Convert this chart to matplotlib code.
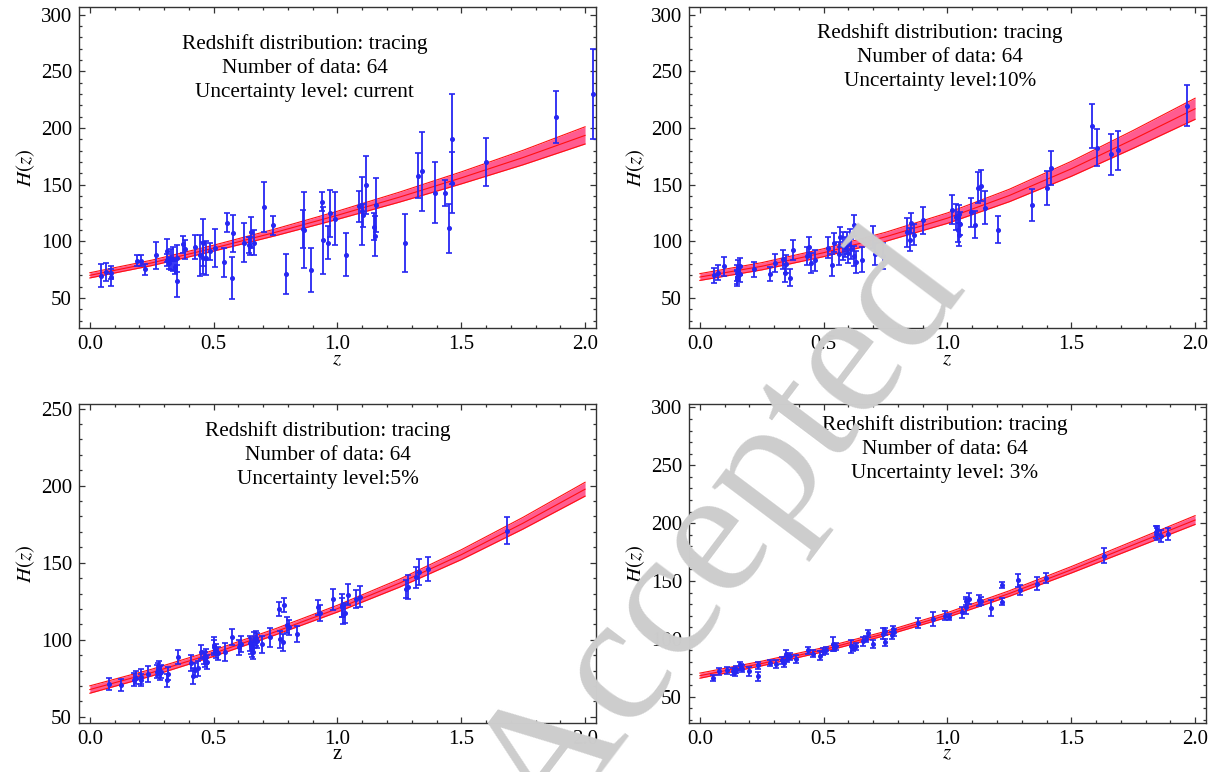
import numpy as np
import matplotlib
matplotlib.use("Agg")
import matplotlib.pyplot as plt
from matplotlib.ticker import MultipleLocator

plt.rcParams["font.family"] = "Liberation Serif"
plt.rcParams["mathtext.fontset"] = "stix"

# ============================================================
# Data: panel 1 (current uncertainty)
# ============================================================
z1 = [0.044, 0.067, 0.084, 0.086, 0.192, 0.205, 0.224, 0.269, 0.312, 0.313,
      0.318, 0.326, 0.336, 0.342, 0.351, 0.377, 0.386, 0.425, 0.444, 0.455,
      0.457, 0.468, 0.487, 0.507, 0.542, 0.555, 0.574, 0.580, 0.623, 0.641,
      0.645, 0.651, 0.661, 0.702, 0.739, 0.791, 0.862, 0.865, 0.892, 0.937,
      0.942, 0.960, 0.969, 0.992, 1.035, 1.087, 1.100, 1.103, 1.114, 1.148,
      1.151, 1.155, 1.273, 1.326, 1.340, 1.394, 1.433, 1.449, 1.464, 1.464,
      1.599, 1.882, 2.032, 0.350]
H1 = [69.7, 73.2, 68.2, 72.4, 83.0, 83.0, 75.3, 87.6, 91.8, 83.5,
      81.0, 84.0, 84.0, 77.0, 65.0, 97.4, 93.0, 94.7, 87.6, 85.0,
      98.8, 85.0, 91.2, 93.8, 81.5, 116.5, 67.6, 107.0, 98.8, 96.8,
      96.0, 108.0, 98.8, 130.6, 114.0, 71.2, 111.0, 110.0, 74.7, 135.0,
      101.0, 98.8, 124.7, 120.0, 88.2, 131.0, 127.0, 123.0, 149.4, 113.0,
      104.7, 132.0, 98.8, 158.0, 161.8, 143.0, 142.4, 111.5, 190.6, 151.8,
      170.0, 209.7, 230.0, 85.0]
e1 = [10.3, 8.1, 7.6, 6.0, 4.7, 4.7, 5.0, 11.8, 10.0, 5.0,
      5.0, 9.4, 10.6, 6.0, 14.4, 7.5, 8.2, 10.6, 18.0, 14.0,
      20.6, 15.0, 7.6, 16.8, 12.6, 8.5, 18.2, 16.0, 17.4, 7.4,
      8.0, 13.5, 11.0, 22.0, 8.2, 17.6, 17.0, 33.5, 19.4, 8.2,
      29.4, 14.7, 20.9, 23.5, 19.0, 13.5, 30.0, 10.0, 25.6, 12.0,
      17.6, 23.7, 25.6, 19.7, 34.7, 27.0, 11.5, 21.5, 39.7, 27.0,
      21.5, 23.0, 40.0, 12.0]

# ============================================================
# Data: panel 2 (10% uncertainty)
# ============================================================
z2 = [0.056, 0.074, 0.098, 0.148, 0.152, 0.156, 0.161, 0.164, 0.150, 0.218,
      0.284, 0.304, 0.337, 0.344, 0.349, 0.363, 0.376, 0.434, 0.439, 0.450,
      0.466, 0.519, 0.532, 0.543, 0.560, 0.565, 0.578, 0.586, 0.594, 0.599,
      0.605, 0.610, 0.624, 0.624, 0.629, 0.653, 0.699, 0.708, 0.741, 0.835,
      0.848, 0.853, 0.866, 0.900, 1.019, 1.035, 1.042, 1.048, 1.051, 1.046,
      1.093, 1.113, 1.124, 1.136, 1.151, 1.206, 1.343, 1.402, 1.419, 1.585,
      1.603, 1.659, 1.688, 1.966]
H2 = [70.0, 72.4, 78.0, 72.0, 67.0, 76.0, 71.0, 78.0, 68.5, 75.3,
      71.0, 81.0, 84.0, 72.4, 79.7, 68.0, 92.6, 87.0, 95.0, 81.0,
      83.2, 94.4, 79.4, 98.8, 89.0, 103.8, 95.6, 95.0, 98.5, 89.7,
      103.8, 93.5, 114.0, 87.0, 81.8, 83.8, 103.8, 88.5, 87.0, 108.0,
      101.5, 116.0, 106.0, 118.5, 128.0, 121.5, 110.3, 123.8, 115.6, 106.0,
      125.6, 114.7, 147.4, 149.0, 129.7, 110.3, 131.8, 147.0, 164.7, 201.5,
      182.6, 176.8, 180.3, 219.7]
e2 = [6.9, 6.6, 8.2, 7.0, 6.5, 7.5, 7.0, 7.5, 6.5, 6.6,
      6.0, 7.8, 8.0, 8.0, 8.0, 7.6, 8.8, 8.0, 9.0, 8.5,
      9.0, 9.3, 9.6, 8.5, 10.0, 9.0, 12.5, 9.0, 9.5, 9.0,
      7.5, 9.0, 9.0, 9.0, 9.3, 11.0, 9.7, 9.7, 11.5, 13.0,
      10.0, 9.0, 9.4, 12.0, 13.0, 11.5, 10.6, 8.0, 10.0, 10.0,
      12.5, 11.8, 13.4, 13.8, 14.7, 12.0, 14.0, 15.0, 14.6, 19.4,
      16.3, 18.2, 17.0, 18.0]

# ============================================================
# Data: panel 3 (5% uncertainty)
# ============================================================
z3 = [0.076, 0.125, 0.178, 0.188, 0.205, 0.208, 0.235, 0.272, 0.277, 0.282,
      0.289, 0.312, 0.317, 0.358, 0.409, 0.417, 0.425, 0.438, 0.450, 0.462,
      0.470, 0.474, 0.503, 0.508, 0.516, 0.546, 0.576, 0.602, 0.610, 0.647,
      0.653, 0.661, 0.658, 0.677, 0.697, 0.728, 0.764, 0.768, 0.780, 0.785,
      0.795, 0.804, 0.835, 0.921, 0.929, 0.983, 1.019, 1.023, 1.032, 1.041,
      1.074, 1.090, 1.277, 1.283, 1.318, 1.331, 1.365, 1.684, 0.280, 0.465,
      0.500, 0.650, 0.670, 1.020]
H3 = [71.2, 70.8, 74.2, 75.5, 76.0, 73.8, 77.7, 79.4, 80.7, 78.6,
      79.4, 73.6, 78.0, 89.0, 85.0, 76.4, 80.3, 81.4, 92.0, 88.5,
      89.0, 85.7, 96.5, 92.9, 91.1, 92.2, 102.0, 95.0, 97.2, 97.6,
      93.7, 99.8, 92.2, 99.4, 97.2, 101.5, 119.7, 100.2, 98.5, 122.5,
      109.3, 108.0, 103.7, 121.0, 117.5, 126.2, 122.3, 116.2, 117.5, 129.2,
      126.6, 128.0, 133.1, 134.4, 140.5, 144.0, 146.0, 170.8, 82.0, 87.0,
      95.0, 96.0, 101.0, 121.0]
e3 = [4.0, 3.9, 4.3, 4.0, 5.0, 4.0, 5.0, 4.5, 4.5, 4.5,
      4.5, 4.3, 4.3, 4.5, 5.0, 5.0, 4.5, 5.0, 4.3, 4.5,
      5.0, 4.5, 5.0, 4.5, 4.5, 5.7, 5.2, 5.0, 5.0, 5.0,
      5.0, 5.0, 5.0, 5.0, 5.5, 6.0, 4.5, 5.5, 5.5, 4.5,
      5.2, 5.0, 5.0, 5.0, 5.0, 7.0, 7.4, 6.0, 6.5, 6.8,
      5.8, 7.0, 6.0, 7.8, 6.7, 8.6, 8.0, 8.8, 4.5, 4.8,
      5.0, 5.0, 5.0, 6.0]

# ============================================================
# Data: panel 4 (3% uncertainty)
# ============================================================
z4 = [0.054, 0.078, 0.110, 0.141, 0.145, 0.161, 0.168, 0.172, 0.199, 0.233,
      0.235, 0.282, 0.309, 0.331, 0.340, 0.349, 0.352, 0.363, 0.387, 0.438,
      0.457, 0.484, 0.497, 0.511, 0.538, 0.543, 0.551, 0.610, 0.618, 0.629,
      0.659, 0.672, 0.681, 0.699, 0.739, 0.747, 0.746, 0.777, 0.782, 0.783,
      0.880, 0.942, 0.989, 1.005, 1.059, 1.073, 1.075, 1.086, 1.129, 1.136,
      1.177, 1.220, 1.220, 1.284, 1.294, 1.362, 1.399, 1.632, 1.841, 1.845,
      1.863, 1.892, 1.847, 0.134]
H4 = [66.1, 71.9, 72.8, 71.0, 73.4, 77.0, 75.7, 74.2, 71.9, 77.0,
      67.6, 79.1, 78.2, 81.4, 79.0, 87.2, 82.6, 84.9, 82.9, 90.1,
      87.2, 85.5, 89.2, 90.1, 95.8, 92.1, 93.5, 93.5, 92.1, 93.5,
      97.8, 99.9, 105.0, 95.8, 104.5, 97.0, 106.5, 103.3, 108.5, 105.6,
      113.7, 117.2, 120.0, 118.9, 123.0, 127.6, 132.8, 134.5, 133.3, 132.4,
      126.9, 146.6, 132.1, 150.6, 142.5, 147.7, 152.6, 172.0, 192.4, 190.4,
      188.7, 190.7, 193.8, 71.9]
e4 = [2.9, 3.2, 2.9, 3.5, 3.0, 3.0, 3.0, 3.0, 3.9, 2.9,
      4.0, 2.9, 3.3, 3.3, 3.0, 3.2, 3.0, 3.0, 3.4, 2.8,
      3.3, 3.9, 3.0, 3.0, 6.0, 3.0, 3.0, 5.5, 3.0, 3.0,
      4.0, 3.0, 3.0, 3.6, 4.6, 3.0, 3.0, 3.0, 3.0, 3.0,
      3.9, 6.0, 4.0, 3.0, 4.8, 6.5, 3.5, 4.8, 5.0, 3.5,
      6.8, 2.8, 2.9, 5.8, 4.3, 5.5, 4.6, 6.6, 5.5, 5.0,
      5.3, 5.5, 4.0, 3.0]

# ============================================================
# Reconstructed H(z) bands (centre and half width)
# ============================================================
z_band = [0.0, 0.25, 0.5, 0.75, 1.0, 1.25, 1.5, 1.75, 2.0]
band_mid = [
    [70.0, 81.0, 94.0, 108.0, 123.0, 139.0, 156.0, 174.0, 193.5],
    [68.5, 78.0, 90.0, 104.0, 120.5, 140.5, 164.0, 190.0, 217.0],
    [67.7, 78.7, 91.2, 105.2, 120.2, 136.7, 155.2, 175.7, 197.7],
    [68.2, 78.7, 90.7, 104.7, 120.7, 139.2, 159.7, 181.2, 202.7],
]
band_hw = [
    [2.3, 2.4, 2.6, 3.0, 3.6, 4.4, 5.3, 6.4, 7.6],
    [3.0, 3.2, 3.5, 4.0, 4.6, 5.5, 6.6, 7.9, 9.3],
    [2.4, 2.2, 2.0, 2.0, 2.2, 2.6, 3.2, 3.8, 4.5],
    [2.2, 2.0, 1.8, 1.8, 2.0, 2.4, 2.8, 3.3, 3.8],
]

level_labels = ["Uncertainty level: current", "Uncertainty level:10%",
                "Uncertainty level:5%", "Uncertainty level: 3%"]

# ============================================================
# Layout
# ============================================================
fig = plt.figure(figsize=(12.22, 7.72), dpi=100)

positions = [
    [0.0646, 0.5751, 0.4231, 0.4158],
    [0.5638, 0.5751, 0.4231, 0.4158],
    [0.0646, 0.0635, 0.4231, 0.4132],
    [0.5638, 0.0635, 0.4231, 0.4132],
]
ylims = [(23.5, 306.8), (23.5, 306.8), (46.0, 253.0), (27.3, 303.0)]
yticks = [[50, 100, 150, 200, 250, 300], [50, 100, 150, 200, 250, 300],
          [50, 100, 150, 200, 250], [50, 100, 150, 200, 250, 300]]
text_xy = [(0.437, 0.810), (0.486, 0.844), (0.482, 0.840), (0.495, 0.859)]
xlabels = [r"$z$", r"$z$", "z", r"$z$"]

data = [(z1, H1, e1), (z2, H2, e2), (z3, H3, e3), (z4, H4, e4)]

for i in range(4):
    ax = fig.add_axes(positions[i])
    zz, hh, ee = data[i]

    mid = np.array(band_mid[i])
    hw = np.array(band_hw[i])
    ax.fill_between(z_band, mid - hw, mid + hw, color="#ff5c90", lw=0, zorder=1)
    ax.plot(z_band, mid + hw, color="#ff1010", lw=0.8, zorder=2)
    ax.plot(z_band, mid - hw, color="#ff1010", lw=0.8, zorder=2)
    ax.plot(z_band, mid, color="#ff1010", lw=0.8, zorder=2)

    ax.errorbar(zz, hh, yerr=ee, fmt="o", color="#2626f2", ms=2.6,
                elinewidth=1.3, capsize=2.4, capthick=1.2, zorder=3)

    ax.set_xlim(-0.044, 2.044)
    ax.set_ylim(*ylims[i])
    ax.set_xticks([0.0, 0.5, 1.0, 1.5, 2.0])
    ax.set_xticklabels(["0.0", "0.5", "1.0", "1.5", "2.0"])
    ax.set_yticks(yticks[i])
    ax.xaxis.set_minor_locator(MultipleLocator(0.1))
    ax.yaxis.set_minor_locator(MultipleLocator(10))
    ax.tick_params(which="both", direction="in", top=True, right=True,
                   labelsize=15, width=0.9, color="#333333")
    ax.tick_params(which="major", length=4.5, pad=5)
    ax.tick_params(which="minor", length=2.2)
    for sp in ax.spines.values():
        sp.set_linewidth(1.0)
        sp.set_color("#333333")

    ax.set_xlabel(xlabels[i], fontsize=15, labelpad=-3)
    ax.set_ylabel(r"$H(z)$", fontsize=15, labelpad=3)

    ax.text(text_xy[i][0], text_xy[i][1],
            "Redshift distribution: tracing\nNumber of data: 64\n" + level_labels[i],
            transform=ax.transAxes, ha="center", va="center",
            multialignment="center", fontsize=15.3, linespacing=1.37)

# watermark
fig.text(0.592, 0.305, "Accepted", rotation=53, fontsize=132, color="#cdcdcd",
         ha="center", va="center", zorder=10)

fig.savefig("out.png", dpi=100)
